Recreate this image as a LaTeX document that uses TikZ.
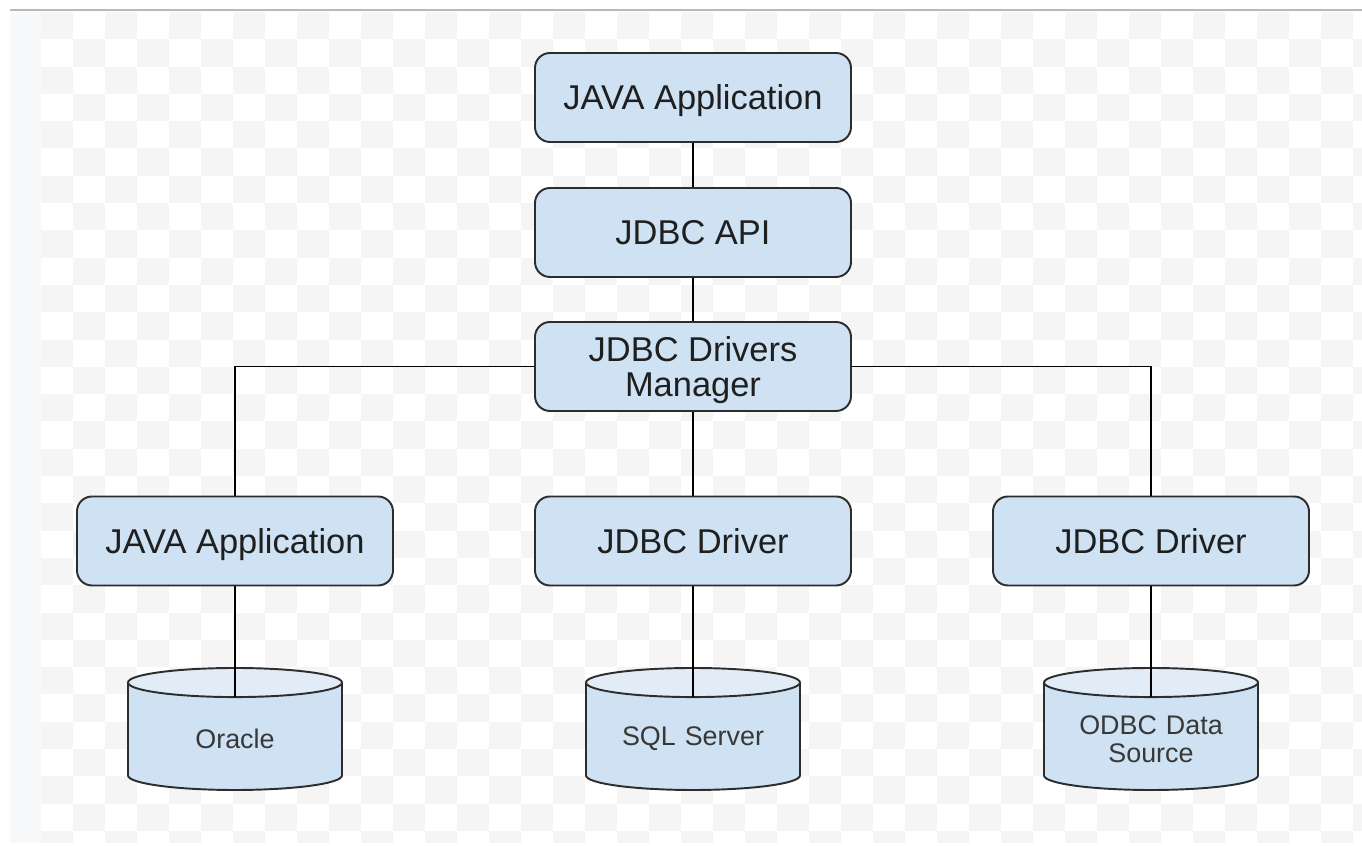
\documentclass[tikz,border=0pt]{standalone}
\usepackage{fontspec}
\setmainfont{Liberation Sans}
\usetikzlibrary{shapes.geometric}
\definecolor{boxblue}{RGB}{207,226,243}
\definecolor{topblue}{RGB}{225,236,247}
\definecolor{edgegray}{RGB}{45,45,45}
\definecolor{checkgray}{RGB}{245,245,245}
\definecolor{stripgray}{RGB}{248,249,251}
\begin{document}
\begin{tikzpicture}
[box/.style={draw=edgegray,line width=1.1pt,fill=boxblue,rounded corners=.3cm,
  minimum width=6.32cm,minimum height=1.78cm,align=center,text=black!88,
  text depth=0pt,font=\fontsize{19.6}{19.6}\selectfont},
 db/.style={cylinder,shape border rotate=90,draw=edgegray,line width=1.1pt,
  cylinder uses custom fill,cylinder body fill=boxblue,cylinder end fill=topblue,
  aspect=.16,text width=3.4cm,minimum width=4.28cm,minimum height=2.44cm,
  align=center,text=black!78,anchor=shape center,font=\fontsize{15.3}{16}\selectfont}]
\useasboundingbox (0,0) rectangle (27.24,16.92);
% background
\fill[stripgray] (.2,.06) rectangle (.82,16.68);
\begin{scope}
\clip (.82,.06) rectangle (27.24,16.68);
\foreach \i in {0,...,41}{
  \foreach \j in {0,...,30}{
    \pgfmathparse{int(mod(\i+\j,2))}
    \ifnum\pgfmathresult=0
      \fill[checkgray] (.82+.64*\i,16.68-.546*\j) rectangle ++(.64,-.546);
    \fi
  }
}
\end{scope}
\draw[line width=1pt,black!28] (.2,16.72) -- (27.24,16.72);

\node[box] (v1) at (13.86,14.97) {JAVA Application};
\node[box] (v2) at (13.86,12.27) {JDBC API};
\node[box] (v3) at (13.86,9.59) {JDBC Drivers\\Manager};

\node[box] (v4) at (4.70,6.10) {JAVA Application};
\node[box] (v5) at (13.86,6.10) {JDBC Driver};
\node[box] (v6) at (23.02,6.10) {JDBC Driver};

\node[db] (d1) at (4.70,2.34) {Oracle};
\node[db] (d2) at (13.86,2.34) {SQL Server};
\node[db] (d3) at (23.02,2.34) {ODBC Data\\Source};
\coordinate (t1) at ([yshift=-.6cm]d1.top);
\coordinate (t2) at ([yshift=-.6cm]d2.top);
\coordinate (t3) at ([yshift=-.6cm]d3.top);

\foreach \from/\to in {v1/v2,v2/v3,v3/v5,v4/t1,v5/t2,v6/t3}
\draw[line width=1pt] (\from) -- (\to);
\draw[line width=1pt] (v3) -| (v4);
\draw[line width=1pt] (v3) -| (v6);
\end{tikzpicture}
\end{document}
